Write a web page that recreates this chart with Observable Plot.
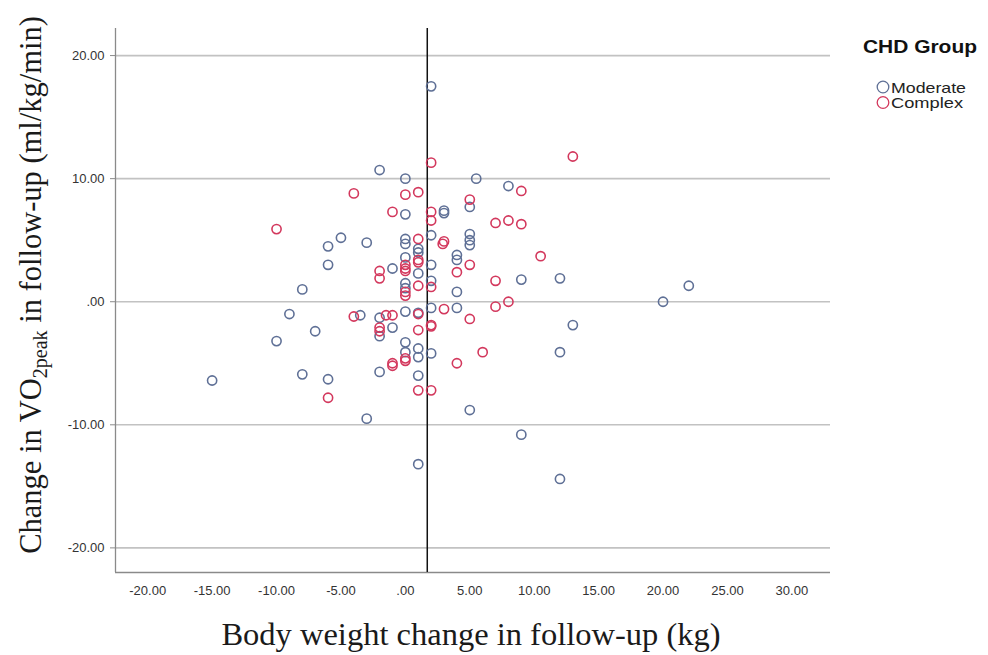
<!DOCTYPE html>
<html><head><meta charset="utf-8">
<script src="https://cdn.jsdelivr.net/npm/d3@7"></script>
<script src="https://cdn.jsdelivr.net/npm/@observablehq/plot@0.6"></script>
<style>
body{margin:0;background:#fff;}
#wrap{position:relative;width:988px;height:655px;}
</style></head><body><div id="wrap"></div>
<script>
const groups = ["Moderate", "Complex"];
const groupColors = ["#5f7096", "#d3385d"];
const moderateX = [2, -2, 0, 5.5, 8, 0, 3, 3, 5, -5, -6, -3, 0, 0, 1, 1, 2, 5, 5, 5, 4, 4, 0, -1, 1, 2, 0, 0, 2, 4, 9, 12, 22, 20, -6, -8, -9, -7, -10, -15, -8, -6, -3.5, -2, -2, -1, 0, 1, 2, 4, 0, 0, 1, 1, 2, -2, 1, 13, 12, 5, -3, 9, 1, 12];
const moderateY = [17.5, 10.7, 10.0, 10.0, 9.4, 7.1, 7.4, 7.2, 7.7, 5.2, 4.5, 4.8, 5.1, 4.7, 4.3, 4.0, 5.4, 5.5, 5.0, 4.6, 3.8, 3.4, 3.6, 2.7, 2.3, 3.0, 1.5, 1.1, 1.7, 0.8, 1.8, 1.9, 1.3, 0.0, 3.0, 1.0, -1.0, -2.4, -3.2, -6.4, -5.9, -6.3, -1.1, -1.3, -2.8, -2.1, -0.8, -0.9, -0.5, -0.5, -3.3, -4.1, -3.8, -4.5, -4.2, -5.7, -6.0, -1.9, -4.1, -8.8, -9.5, -10.8, -13.2, -14.4];
const complexX = [2, 13, -4, 0, 1, 9, 5, -1, 2, 2, 7, 8, 9, -10, 1, 3, 2.9, 10.5, 5, 4, -2, -2, 0, 0, 0, 1, 1, 0, 0, 1, 2, 7, 8, 7, 3, 5, -4, -1.5, -1, -2, -2, 1, 2, 2, 0, 0, -1, -1, 4, 6, 1, 2, -6, 1];
const complexY = [11.3, 11.8, 8.8, 8.7, 8.9, 9.0, 8.3, 7.3, 7.3, 6.6, 6.4, 6.6, 6.3, 5.9, 5.1, 4.9, 4.7, 3.7, 3.0, 2.4, 2.5, 1.9, 3.0, 2.7, 2.5, 3.4, 3.2, 0.8, 0.5, 1.3, 1.2, 1.7, 0.0, -0.4, -0.6, -1.4, -1.2, -1.1, -1.1, -2.1, -2.4, -2.3, -1.9, -2.0, -4.6, -4.8, -5.0, -5.2, -5.0, -4.1, -7.2, -7.2, -7.8, -1.0];
const xTicks = [-20, -15, -10, -5, 0, 5, 10, 15, 20, 25, 30];
const yTicks = [-20, -10, 0, 10, 20];
const xDomain = [-22.5, 33];
const yDomain = [-22, 22.2];
const refLineX = [1.7];
const xLabel = "Body weight change in follow-up (kg)";
const yLabelParts = ["Change in VO", "2peak", " in follow-up (ml/kg/min)"];
const legendTitle = "CHD Group";

const data = [
  ...moderateX.map((x, i) => ({x, y: moderateY[i], g: groups[0]})),
  ...complexX.map((x, i) => ({x, y: complexY[i], g: groups[1]}))
];
const fmt = d => d === 0 ? ".00" : d.toFixed(2);

const chart = Plot.plot({
  width: 988, height: 655,
  marginLeft: 115, marginRight: 158, marginTop: 28, marginBottom: 83,
  style: {fontFamily: "'Liberation Sans', Arial, sans-serif", fontSize: "13px", color: "#333", background: "#fff"},
  x: {domain: xDomain, ticks: xTicks, tickFormat: fmt, label: null, tickSize: 0, tickPadding: 13},
  y: {domain: yDomain, ticks: yTicks, tickFormat: fmt, label: null, tickSize: 5, tickPadding: 6},
  color: {domain: groups, range: groupColors},
  marks: [
    Plot.ruleY(yTicks, {stroke: "#c2c2c2", strokeWidth: 1.6}),
    Plot.ruleX([xDomain[0]], {stroke: "#8a8a8a", strokeWidth: 1.3}),
    Plot.ruleY([yDomain[0]], {stroke: "#8a8a8a", strokeWidth: 1.3}),
    Plot.ruleX(refLineX, {stroke: "#111", strokeWidth: 1.5}),
    Plot.dot(data, {x: "x", y: "y", stroke: "g", r: 4.6, strokeWidth: 1.6, fill: "none"})
  ]
});

const svg = d3.select(chart);
svg.selectAll("[aria-label='y-axis tick']").attr("stroke", "#8a8a8a");

// y label with subscript
const yl = svg.append("text")
  .attr("transform", "translate(41,285) rotate(-90)")
  .attr("text-anchor", "middle")
  .attr("fill", "#1a1a1a")
  .style("font-family", "'Liberation Serif', 'Times New Roman', serif")
  .style("font-size", "30.5px");
yl.append("tspan").text(yLabelParts[0]);
yl.append("tspan").attr("dy", 6).style("font-size", "20px").text(yLabelParts[1]);
yl.append("tspan").attr("dy", -6).text(yLabelParts[2]);

svg.append("text")
  .attr("x", 471).attr("y", 645)
  .attr("text-anchor", "middle")
  .attr("fill", "#1a1a1a")
  .style("font-family", "'Liberation Serif', 'Times New Roman', serif")
  .style("font-size", "32.5px")
  .text(xLabel);

// legend
const lg = svg.append("g").attr("text-anchor", "start").style("font-family", "'Liberation Sans', Arial, sans-serif");
lg.append("text").attr("x", 863).attr("y", 53).attr("fill", "#111")
  .attr("textLength", 114).attr("lengthAdjust", "spacingAndGlyphs")
  .style("font-size", "17.5px").style("font-weight", "bold").text(legendTitle);
groups.forEach((g, i) => {
  const cy = 87 + i * 15.5;
  lg.append("circle").attr("cx", 883).attr("cy", cy).attr("r", 5.8)
    .attr("fill", "none").attr("stroke", groupColors[i]).attr("stroke-width", 1.3);
  lg.append("text").attr("x", 891).attr("y", cy + 5.5).attr("fill", "#222")
    .attr("textLength", i === 0 ? 75 : 72).attr("lengthAdjust", "spacingAndGlyphs")
    .style("font-size", "15px").text(g);
});

document.getElementById("wrap").appendChild(chart);
</script>
</body></html>
